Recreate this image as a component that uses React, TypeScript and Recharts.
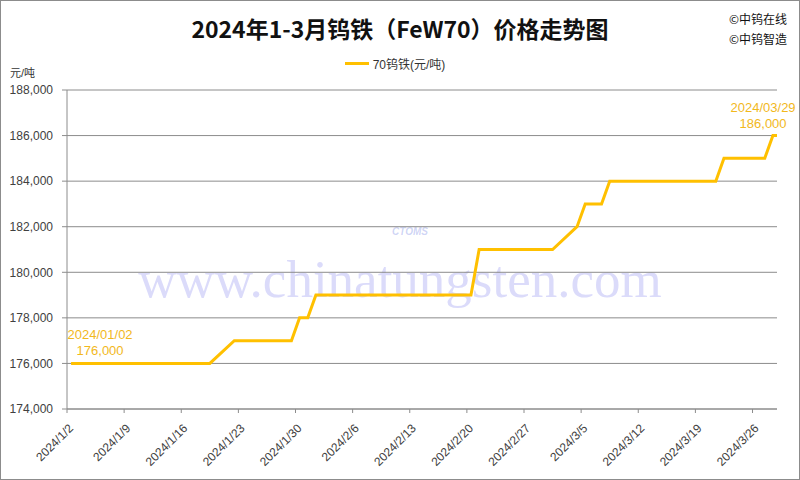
import { CartesianGrid, Line, LineChart, XAxis, YAxis } from "recharts";

// trading days (weekdays, Spring Festival break removed)
const dates = [
  "2024-01-02", "2024-01-03", "2024-01-04", "2024-01-05",
  "2024-01-08", "2024-01-09", "2024-01-10", "2024-01-11", "2024-01-12",
  "2024-01-15", "2024-01-16", "2024-01-17", "2024-01-18", "2024-01-19",
  "2024-01-22", "2024-01-23", "2024-01-24", "2024-01-25", "2024-01-26",
  "2024-01-29", "2024-01-30", "2024-01-31", "2024-02-01", "2024-02-02",
  "2024-02-05", "2024-02-06", "2024-02-07", "2024-02-08", "2024-02-09",
  "2024-02-19", "2024-02-20", "2024-02-21", "2024-02-22", "2024-02-23",
  "2024-02-26", "2024-02-27", "2024-02-28", "2024-02-29", "2024-03-01",
  "2024-03-04", "2024-03-05", "2024-03-06", "2024-03-07", "2024-03-08",
  "2024-03-11", "2024-03-12", "2024-03-13", "2024-03-14", "2024-03-15",
  "2024-03-18", "2024-03-19", "2024-03-20", "2024-03-21", "2024-03-22",
  "2024-03-25", "2024-03-26", "2024-03-27", "2024-03-28", "2024-03-29",
];

const prices = [
  176000, 176000, 176000, 176000,
  176000, 176000, 176000, 176000, 176000,
  176000, 176000, 176000, 176000, 176000,
  177000, 177000, 177000, 177000, 177000,
  177000, 178000, 178000, 179000, 179000,
  179000, 179000, 179000, 179000, 179000,
  179000, 179000, 181000, 181000, 181000,
  181000, 181000, 181000, 181000, 181000,
  182000, 183000, 183000, 183000, 184000,
  184000, 184000, 184000, 184000, 184000,
  184000, 184000, 184000, 184000, 185000,
  185000, 185000, 185000, 186000, 186000,
];

const xTickDates = [
  "2024-01-02", "2024-01-09", "2024-01-16", "2024-01-23", "2024-01-30",
  "2024-02-06", "2024-02-13", "2024-02-20", "2024-02-27", "2024-03-05",
  "2024-03-12", "2024-03-19", "2024-03-26",
];
const xEndDate = "2024-03-29";

const yTicks = [174000, 176000, 178000, 180000, 182000, 184000, 186000, 188000];

const DAY = 86400000;
const start = Date.parse(dates[0]);
const dayIndex = (s: string) => (Date.parse(s) - start) / DAY;

// excel date axis puts each point in the middle of its day slot
const data = dates.map((d, i) => ({ date: d, pos: dayIndex(d) + 0.5, price: prices[i] }));

const LINE = "#FFC000";
const LABEL = "#F2B81C";
const GRID = "#8c8c8c";
const FONT = "'Liberation Sans', 'Noto Sans CJK SC', sans-serif";

const fmtTick = (v: number) => {
  const dt = new Date(start + v * DAY);
  return `${dt.getUTCFullYear()}/${dt.getUTCMonth() + 1}/${dt.getUTCDate()}`;
};
const fmtDate = (s: string) => s.replace(/-/g, "/");
const fmtNum = (v: number) => v.toLocaleString("en-US");

const XTick = ({ x, y, payload }: any) => (
  <g transform={`translate(${x + 7},${y + 14}) rotate(-45)`}>
    <text x={0} y={0} textAnchor="end" fontSize={12} fill="#404040" fontFamily={FONT}>
      {fmtTick(payload.value)}
    </text>
  </g>
);

const PointLabel = ({ x, y, index }: any) => {
  const last = data.length - 1;
  if (index !== 0 && index !== last) return null;
  const p = data[index];
  const cx = index === 0 ? x + 29 : x - 18;
  return (
    <g fontFamily={FONT} fontSize={13} fill={LABEL} textAnchor="middle">
      <text x={cx} y={y - 24}>{fmtDate(p.date)}</text>
      <text x={cx} y={y - 8}>{fmtNum(p.price)}</text>
    </g>
  );
};

const App = () => {
  return (
    <div style={{ position: "absolute", left: 0, top: 0, width: 800, height: 480, background: "#fff", fontFamily: FONT }}>
      <div
        style={{
          position: "absolute", left: 0, top: 249, width: 800, textAlign: "center",
          fontFamily: "'Liberation Serif', serif", fontSize: 53, color: "rgba(110,110,235,0.25)",
        }}
      >
        www.chinatungsten.com
      </div>
      <div
        style={{
          position: "absolute", left: 370, top: 226, width: 80, textAlign: "center",
          fontSize: 10, fontStyle: "italic", fontWeight: 700, color: "rgba(90,110,220,0.3)",
        }}
      >
        CTOMS
      </div>

      <LineChart width={800} height={480} data={data} margin={{ top: 90, right: 23, bottom: 0, left: 0 }}>
        <CartesianGrid vertical={false} stroke={GRID} strokeWidth={1} />
        <XAxis
          dataKey="pos"
          type="number"
          domain={[0, dayIndex(xEndDate)]}
          allowDataOverflow
          ticks={xTickDates.map(dayIndex)}
          tick={<XTick />}
          tickSize={4}
          height={71}
          stroke={GRID}
        />
        <YAxis
          type="number"
          domain={[174000, 188000]}
          ticks={yTicks}
          tickFormatter={fmtNum}
          width={67}
          tickSize={5}
          tickMargin={9}
          stroke={GRID}
          tick={{ fontSize: 12, fill: "#404040", fontFamily: FONT }}
        />
        <Line
          dataKey="price"
          stroke={LINE}
          strokeWidth={3}
          dot={false}
          activeDot={false}
          isAnimationActive={false}
          label={<PointLabel />}
        />
      </LineChart>

      <div style={{ position: "absolute", left: 0, top: 11, width: 800, textAlign: "center", fontSize: 23, fontWeight: 700, color: "#111", fontFamily: "'Noto Sans CJK SC', sans-serif" }}>
        2024年1-3月钨铁（FeW70）价格走势图
      </div>
      <div style={{ position: "absolute", left: 729, top: 9, fontSize: 12, lineHeight: "20px", color: "#111", fontFamily: "'Noto Sans CJK SC', sans-serif" }}>
        <div>©中钨在线</div>
        <div>©中钨智造</div>
      </div>
      <div style={{ position: "absolute", left: 0, top: 55, width: 790, display: "flex", justifyContent: "center", alignItems: "center", fontSize: 12, color: "#333" }}>
        <span style={{ display: "inline-block", width: 24, height: 3, background: LINE, marginRight: 4 }} />
        <span>70钨铁(元/吨)</span>
      </div>
      <div style={{ position: "absolute", left: 10, top: 64, fontSize: 11, color: "#333" }}>元/吨</div>
      <div style={{ position: "absolute", left: 0, top: 0, width: 800, height: 480, boxSizing: "border-box", border: "1px solid #8c8c8c", pointerEvents: "none" }} />
    </div>
  );
};

export default App;
